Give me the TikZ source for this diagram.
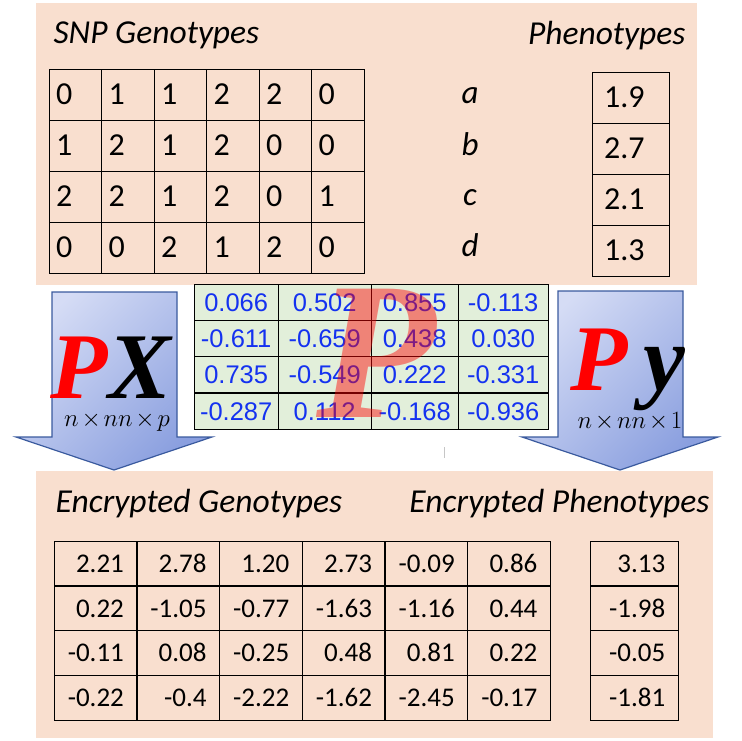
\documentclass[tikz,border=0pt]{standalone}
\usepackage{amsmath}
\usepackage{fontspec}
\setmainfont{Carlito}
\newfontfamily\arialfont{Liberation Sans}
\newfontfamily\timesfont{Liberation Serif}
\usetikzlibrary{matrix, positioning}

\definecolor{panelfill}{HTML}{F9DFCF}
\definecolor{cellgreen}{HTML}{E2EFDA}
\definecolor{numblue}{HTML}{1432F0}
\definecolor{arrowlight}{HTML}{D5DCF5}
\definecolor{arrowdark}{HTML}{8A9FDF}
\definecolor{arrowedge}{HTML}{3A5A9E}

\newcommand{\dimtimes}{\mkern2mu{\times}\mkern2mu}

\begin{document}
\begin{tikzpicture}[x=1pt, y=-1pt, line width=1.2pt, node distance=2pt,
	panel/.style={fill=panelfill},
	heading/.style={font=\fontsize{33.5}{34}\selectfont\itshape, inner sep=0pt},
	rowlabel/.style={font=\fontsize{33}{34}\selectfont\itshape, inner sep=0pt, anchor=base},
	grid/.style={matrix of nodes, inner sep=0pt, column sep=-1.2pt, row sep=-1.2pt, anchor=north west},
	genocell/.style={draw=black, minimum height=51pt, text height=20pt, text depth=0pt, inner ysep=0pt, align=left, font=\fontsize{32}{32}\selectfont},
	projcell/.style={draw=black, fill=cellgreen, text=numblue, minimum height=36.25pt, text height=18pt, text depth=0pt, inner sep=0pt, font=\arialfont\fontsize{25.5}{25.5}\selectfont},
	enccell/.style={draw=black, minimum height=44.75pt, text height=17.5pt, text depth=0pt, inner xsep=13pt, inner ysep=0pt, align=right, font=\fontsize{27}{27}\selectfont},
	blockarrow/.style={draw=arrowedge, line width=1.2pt, top color=arrowlight, bottom color=arrowdark, shading angle=45},
	bigsym/.style={font=\timesfont\bfseries\itshape\fontsize{94}{94}\selectfont, inner sep=0pt},
	dimlabel/.style={font=\fontsize{32}{32}\selectfont, inner sep=0pt},
	watermark/.style={font=\timesfont\bfseries\itshape\fontsize{196}{196}\selectfont, text=red, text opacity=0.45, inner sep=0pt}]
	\useasboundingbox (0,0) rectangle (741,741);

	% panels
	\fill[panel] (36,3) rectangle (697,285);
	\fill[panel] (36,471) rectangle (713,738);

	% down arrows
	\draw[blockarrow] (52,292) -- (177,292) -- (177,437) -- (212,437) -- (114,470) -- (16,437) -- (52,437) -- cycle;
	\draw[blockarrow] (558,291) -- (683,291) -- (683,437) -- (718,437) -- (620,470) -- (522,437) -- (558,437) -- cycle;
	\draw[gray!45, line width=1pt] (444,447) -- (444,458);

	% original data
	\node[heading, anchor=base west] (geno-title) at (53,44) {SNP Genotypes};
	\node[heading, anchor=base east] (pheno-title) at (686,45) {Phenotypes};
	\matrix[grid, nodes={genocell, text width=38.5pt, inner xsep=7pt}] (geno) at (48,68) {
		0 & 1 & 1 & 2 & 2 & 0 \\
		1 & 2 & 1 & 2 & 0 & 0 \\
		2 & 2 & 1 & 2 & 0 & 1 \\
		0 & 0 & 2 & 1 & 2 & 0 \\
	};
	\matrix[grid, nodes={genocell, text width=53pt, inner xsep=12pt}] (pheno) at (591,71) {
		1.9 \\
		2.7 \\
		2.1 \\
		1.3 \\
	};
	\node[rowlabel] (lab-a) at (470,104) {a};
	\node[rowlabel] (lab-b) at (470,155) {b};
	\node[rowlabel] (lab-c) at (470,205) {c};
	\node[rowlabel] (lab-d) at (470,256) {d};

	% random projection matrix
	\matrix[grid, nodes={projcell},
		column 1/.style={nodes={minimum width=84pt}},
		column 2/.style={nodes={minimum width=93pt}},
		column 3/.style={nodes={minimum width=87pt}},
		column 4/.style={nodes={minimum width=90pt}}] (proj) at (193,283) {
		0.066 & 0.502 & 0.855 & -0.113 \\
		-0.611 & -0.659 & 0.438 & 0.030 \\
		0.735 & -0.549 & 0.222 & -0.331 \\
		-0.287 & 0.112 & -0.168 & -0.936 \\
	};
	\node[watermark] (pmark) at (376,353) {P};

	% labels on the arrows
	\node[bigsym, anchor=base] (px) at (111,398) {\textcolor{red}{P}X};
	\node[dimlabel, below=13pt of px, xshift=6pt] (px-dim) {$n\dimtimes nn\dimtimes p$};
	\node[bigsym, anchor=base] (py) at (628,390) {\textcolor{red}{P}\,y};
	\node[dimlabel, below=1pt of py, xshift=2pt] (py-dim) {$n\dimtimes nn\dimtimes 1$};

	% encrypted data
	\node[heading, anchor=base west] (encgeno-title) at (55,512) {Encrypted Genotypes};
	\node[heading, anchor=base east] (encpheno-title) at (710,512) {Encrypted Phenotypes};
	\matrix[grid, nodes={enccell, text width=56.7pt}] (encgeno) at (53,540) {
		2.21 & 2.78 & 1.20 & 2.73 & -0.09 & 0.86 \\
		0.22 & -1.05 & -0.77 & -1.63 & -1.16 & 0.44 \\
		-0.11 & 0.08 & -0.25 & 0.48 & 0.81 & 0.22 \\
		-0.22 & -0.4 & -2.22 & -1.62 & -2.45 & -0.17 \\
	};
	\matrix[grid, nodes={enccell, text width=62pt}] (encpheno) at (589,540) {
		3.13 \\
		-1.98 \\
		-0.05 \\
		-1.81 \\
	};
\end{tikzpicture}
\end{document}
